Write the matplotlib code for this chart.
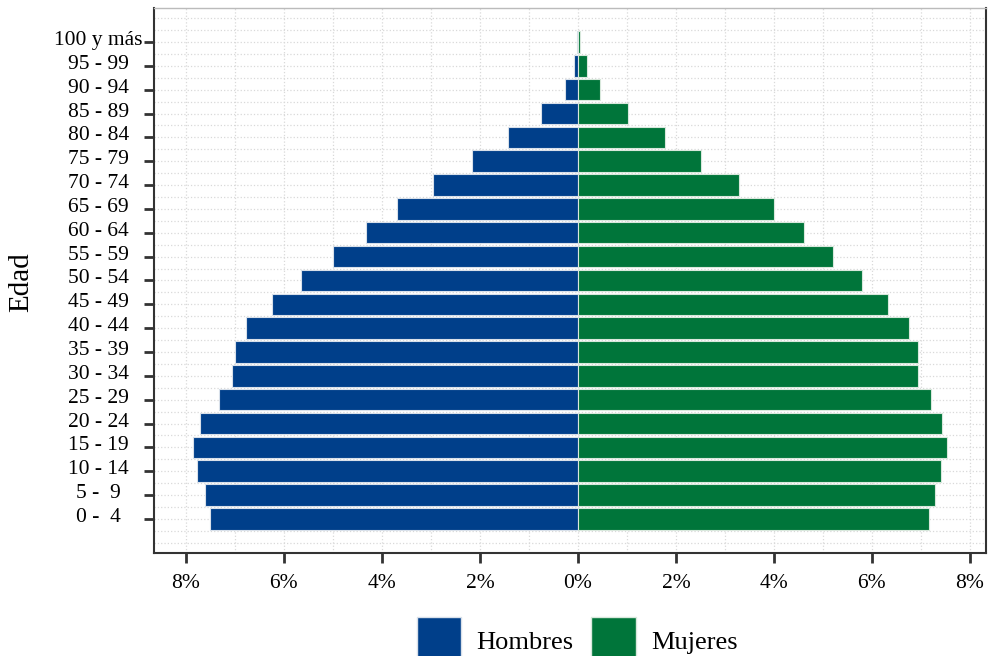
import numpy as np
import matplotlib.pyplot as plt
import matplotlib.transforms as mtrans
from matplotlib.patches import Patch
from matplotlib.ticker import FuncFormatter, MultipleLocator

plt.rcParams['font.family'] = ['Liberation Serif', 'DejaVu Serif']

# Grupos de edad (de menor a mayor)
edades = ['0 -  4', '5 -  9', '10 - 14', '15 - 19', '20 - 24', '25 - 29',
          '30 - 34', '35 - 39', '40 - 44', '45 - 49', '50 - 54', '55 - 59',
          '60 - 64', '65 - 69', '70 - 74', '75 - 79', '80 - 84', '85 - 89',
          '90 - 94', '95 - 99', '100 y más']

# Porcentaje de población por sexo
hombres = [7.51, 7.61, 7.78, 7.86, 7.71, 7.33, 7.06, 7.00, 6.78, 6.25, 5.66,
           4.99, 4.32, 3.69, 2.96, 2.16, 1.43, 0.76, 0.27, 0.07, 0.01]
mujeres = [7.17, 7.29, 7.41, 7.53, 7.43, 7.21, 6.94, 6.94, 6.76, 6.33, 5.80,
           5.20, 4.61, 4.01, 3.28, 2.51, 1.78, 1.03, 0.46, 0.19, 0.05]

COL_H = '#003f8a'
COL_M = '#00753a'

fig = plt.figure(figsize=(9.9, 6.56), dpi=100)
ax = fig.add_axes([0.1556, 0.157, 0.8404, 0.831])

y = np.arange(len(edades))
ax.barh(y, -np.array(hombres), height=0.9, color=COL_H, edgecolor='#d8e0ea',
        linewidth=0.8, zorder=3)
ax.barh(y, mujeres, height=0.9, color=COL_M, edgecolor='#d8e8dc',
        linewidth=0.8, zorder=3)

ax.set_xlim(-8.65, 8.33)
ax.set_ylim(-1.43, len(edades) - 1 + 1.43)
ax.set_yticks(y)
ax.set_yticklabels(edades)
ax.xaxis.set_major_locator(MultipleLocator(2))
ax.xaxis.set_minor_locator(MultipleLocator(1))
ax.yaxis.set_minor_locator(MultipleLocator(0.5))
ax.xaxis.set_major_formatter(FuncFormatter(lambda v, p: f'{abs(v):.0f}%'))

ax.grid(True, which='both', color='#d9d9d9', linestyle=':', linewidth=0.9, zorder=0)
ax.tick_params(axis='both', which='major', labelsize=15.5, length=7, width=2,
               color='#333333', labelcolor='black')
ax.tick_params(axis='x', pad=8)
ax.tick_params(axis='y', pad=33)
ax.tick_params(axis='both', which='minor', length=0)

# etiquetas de edad centradas y un poco por encima de la marca
shift = mtrans.ScaledTranslation(0, 4 / 100, fig.dpi_scale_trans)
for lab in ax.get_yticklabels():
    lab.set_horizontalalignment('center')
    lab.set_transform(lab.get_transform() + shift)

for s in ['left', 'bottom', 'right']:
    ax.spines[s].set_color('#333333')
    ax.spines[s].set_linewidth(1.5)
ax.spines['top'].set_color('#bbbbbb')
ax.spines['top'].set_linewidth(1.0)

fig.text(0.021, 0.57, 'Edad', rotation=90, ha='center', va='center', fontsize=21)

handles = [Patch(facecolor=COL_H, edgecolor='#d8e0ea', label='Hombres'),
           Patch(facecolor=COL_M, edgecolor='#d8e8dc', label='Mujeres')]
fig.legend(handles=handles, loc='lower center', bbox_to_anchor=(0.583, -0.05),
           ncol=2, frameon=False, fontsize=19, handlelength=1.7, handleheight=2.4,
           columnspacing=0.65, handletextpad=0.58)

plt.savefig('out.png', dpi=100)
